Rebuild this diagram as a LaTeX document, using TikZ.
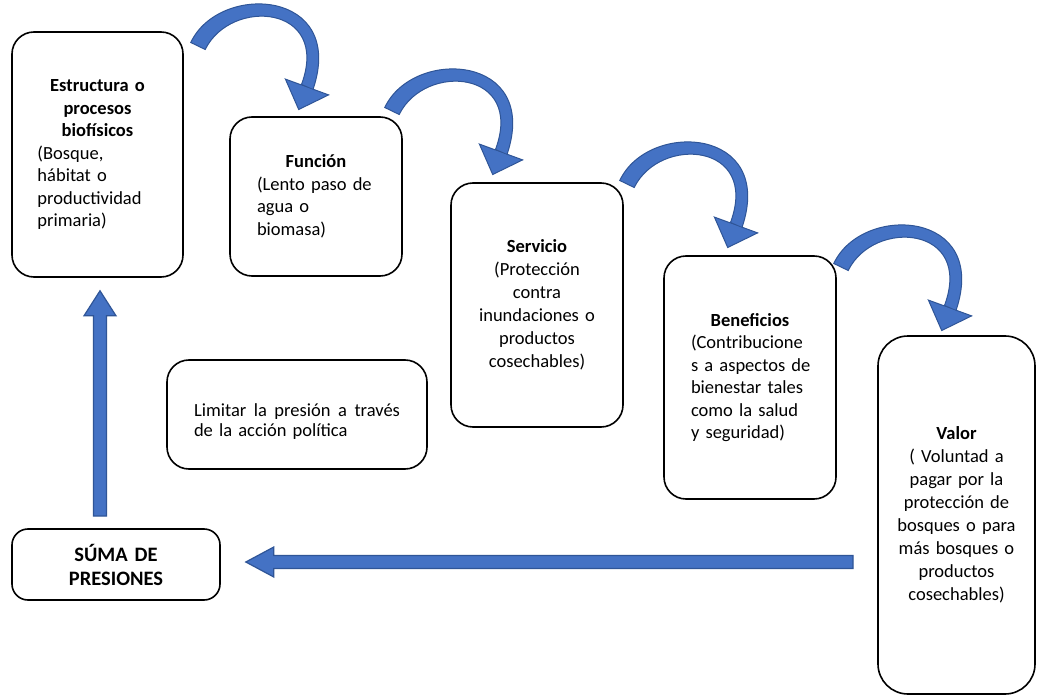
\documentclass[tikz,border=0pt]{standalone}
\usepackage{fontspec}
\setmainfont{Carlito}[WordSpace=0.75]
\usetikzlibrary{calc}
\definecolor{arrowblue}{HTML}{4472C4}
\definecolor{arrowedge}{HTML}{2F5597}
\begin{document}
\begin{tikzpicture}[x=1pt,y=-1pt,
  box/.style={draw=black, line width=1.6pt, rounded corners=22pt, inner sep=0pt,
    font=\fontsize{18.5}{22.5}\selectfont},
  blockarrow/.style={fill=arrowblue, draw=arrowedge, line width=1.2pt},
  curvarrow/.pic={
    \filldraw[fill=arrowblue, draw=arrowedge, line width=1pt, line join=miter]
      (87.4,33.1) -- (100.7,63.5) -- (130.6,48.9) -- cycle;
    \filldraw[fill=arrowblue, draw=arrowedge, line width=1pt]
      (-7.2,-3.5) .. controls (21,-64) and (149,-57) .. (115,43.5)
      -- (103.5,38.5) .. controls (133,-41) and (33,-49) .. (7.2,3.5) -- cycle;
    \fill[arrowblue] (103.2,39.5) -- (115.3,44) -- (112,50) -- (102,46) -- cycle;
  }]
\useasboundingbox (0,0) rectangle (1037,698);
\fill[white] (0,0) rectangle (1037,698);

% boxes
\node[box, minimum width=171pt, minimum height=245pt, text width=120pt, align=left] (est) at (97.5,154.5)
  {{\centering\bfseries\mbox{Estructura o}\\procesos\\biofísicos\par}
   \raggedright\mbox{(Bosque,}\\\mbox{hábitat o}\\\mbox{productividad}\\\mbox{primaria)}};
\node[box, minimum width=172pt, minimum height=159pt, text width=118pt, align=left] (fun) at (316,196.5)
  {{\centering\bfseries Función\par}
   \raggedright\mbox{(Lento paso de}\\\mbox{agua o}\\\mbox{biomasa)}};
\node[box, minimum width=172pt, minimum height=244pt, text width=160pt, align=center,
  font=\fontsize{18.5}{23}\selectfont] (ser) at (537,305)
  {\textbf{Servicio}\\(Protección\\contra\\inundaciones o\\productos\\cosechables)};
\node[box, minimum width=172pt, minimum height=243pt, text width=118pt, align=left] (ben) at (750,377.5)
  {{\centering\bfseries Beneficios\par}
   \raggedright\mbox{(Contribucione}\\\mbox{s a aspectos de}\\\mbox{bienestar tales}\\\mbox{como la salud}\\\mbox{y seguridad)}};
\node[box, rounded corners=30pt, minimum width=157pt, minimum height=358pt, text width=150pt, align=center,
  font=\fontsize{18.5}{23}\selectfont] (val) at (956.5,515)
  {\textbf{Valor}\\( Voluntad a\\pagar por la\\protección de\\bosques o para\\más bosques o\\productos\\cosechables)};
\node[box, minimum width=260pt, minimum height=109pt, text width=206pt, align=left,
  font=\fontsize{18.5}{20}\selectfont] (lim) at (297,414.5)
  {\rule{0pt}{27pt}Limitar\hfill la\hfill presión\hfill a\hfill través\\\mbox{de la acción política}};
\node[box, rounded corners=16pt, minimum width=208pt, minimum height=71pt, text width=200pt, align=center,
  font=\fontsize{20.5}{24}\bfseries\selectfont] (suma) at (116,564.5)
  {SÚMA DE\\PRESIONES};

% curved arrows between the upper boxes
\coordinate (c1) at (198,46);
\coordinate (c2) at (392,111);
\coordinate (c3) at (627,184);
\coordinate (c4) at (841,267);
\pic at (c1) {curvarrow};
\pic at (c2) {curvarrow};
\pic at (c3) {curvarrow};
\pic at (c4) {curvarrow};

% vertical block arrow (suma -> est)
\coordinate (v2) at ($(est.south)+(2.5,13)$);
\coordinate (v1) at (v2 |- 0,516);
\path[blockarrow] ($(v1)+(-6.5,0)$) -- ($(v2)+(-6.5,25)$) -- ($(v2)+(-16,25)$) -- (v2)
  -- ($(v2)+(16,25)$) -- ($(v2)+(6.5,25)$) -- ($(v1)+(6.5,0)$) -- cycle;

% horizontal block arrow (val -> suma)
\coordinate (h1) at (853,562);
\coordinate (h2) at ($(suma.east |- h1)+(25,0)$);
\path[blockarrow] ($(h1)+(0,-6.5)$) -- ($(h2)+(28,-6.5)$) -- ($(h2)+(28,-15)$) -- (h2)
  -- ($(h2)+(28,15)$) -- ($(h2)+(28,6.5)$) -- ($(h1)+(0,6.5)$) -- cycle;
\end{tikzpicture}
\end{document}
